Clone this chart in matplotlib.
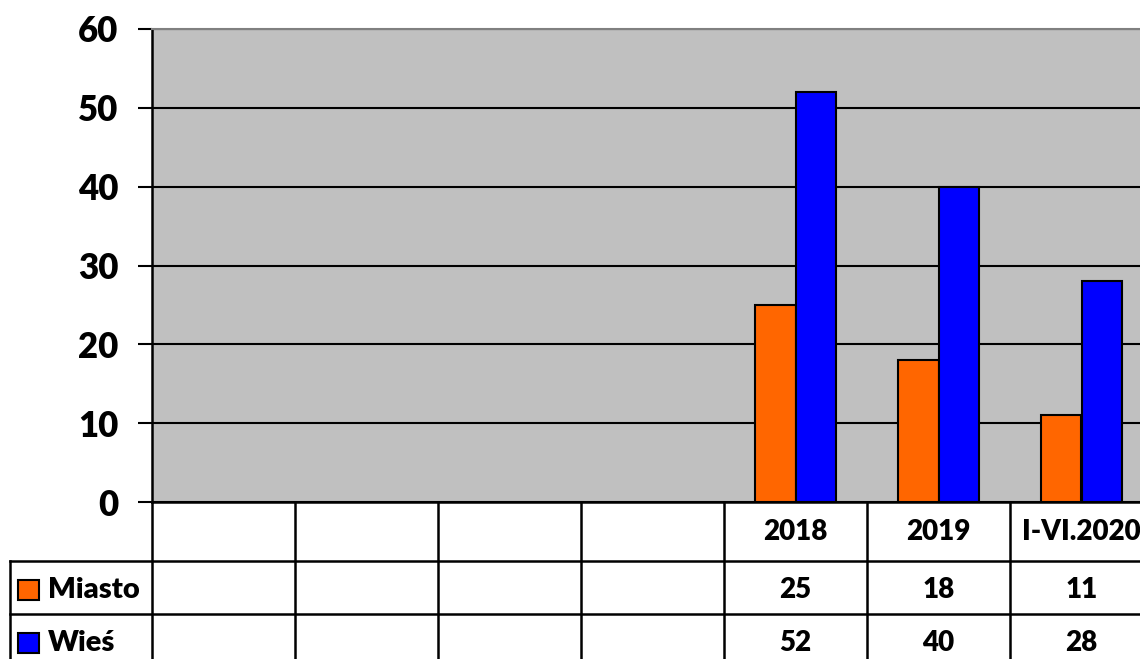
import matplotlib
matplotlib.use("Agg")
import matplotlib.pyplot as plt
from matplotlib.patches import Rectangle

categories = ["", "", "", "", "2018", "2019", "I-VI.2020"]
series_names = ["Miasto", "Wieś"]
miasto = [None, None, None, None, 25, 18, 11]
wies = [None, None, None, None, 52, 40, 28]
yticks = [0, 10, 20, 30, 40, 50, 60]
colors = ["#FF6600", "#0000FF"]

W, H = 1140, 659
DPI = 100
plt.rcParams['font.family'] = ['Lato', 'DejaVu Sans']
WT = 'heavy'

fig = plt.figure(figsize=(W / DPI, H / DPI), dpi=DPI)
fig.patch.set_facecolor("white")

# plot area in pixels
px_l, px_r, px_t, px_b = 152, 1153, 29, 502
ax = fig.add_axes([px_l / W, (H - px_b) / H, (px_r - px_l) / W, (px_b - px_t) / H])
ax.set_facecolor("#C0C0C0")
n = len(categories)
ax.set_xlim(-0.5, n - 0.5)
ax.set_ylim(0, 60)

bw = 1 / 3.5
for si, (vals, c) in enumerate(zip([miasto, wies], colors)):
    xs = [i for i, v in enumerate(vals) if v is not None]
    hs = [v for v in vals if v is not None]
    offs = (si - 0.5) * bw
    ax.bar([x + offs for x in xs], hs, width=bw, color=c, edgecolor="black",
           linewidth=1.5, zorder=3)

ax.set_yticks(yticks)
ax.set_yticklabels([str(t) for t in yticks], fontsize=25, fontweight=WT)
ax.tick_params(axis='y', length=10, width=1.5, pad=14, direction='out')
ax.set_xticks([])
ax.yaxis.grid(True, color="black", linewidth=1.5, zorder=1)
ax.set_axisbelow(True)
for s in ["left", "bottom"]:
    ax.spines[s].set_color("black")
    ax.spines[s].set_linewidth(1.8)
ax.spines["top"].set_color("#808080")
ax.spines["top"].set_linewidth(1.5)
ax.spines["right"].set_visible(False)

# table below
cat_w = (px_r - px_l) / n
leg_left = 10
x_leg = -0.5 - (px_l - leg_left) / cat_w
tax = fig.add_axes([leg_left / W, 0, (px_r - leg_left) / W, (H - px_b) / H])
tax.set_xlim(x_leg, n - 0.5)
tax.set_ylim(H, px_b)
tax.axis("off")

row1, row2 = 561, 614
lw = 1.8
for i in range(n + 1):
    tax.plot([i - 0.5, i - 0.5], [px_b, H + 5], color="black", lw=lw, clip_on=False)
tax.plot([x_leg, x_leg], [row1, H + 5], color="black", lw=lw, clip_on=False)
for yy in [row1, row2]:
    tax.plot([x_leg, n - 0.5], [yy, yy], color="black", lw=lw, clip_on=False)

fs = 20
y_head = 532
y_r1 = 590
y_r2 = 643
for i, c in enumerate(categories):
    if c:
        tax.text(i, y_head, c, ha="center", va="center", fontsize=fs, fontweight=WT)
for vals, yc in [(miasto, y_r1), (wies, y_r2)]:
    for i, v in enumerate(vals):
        if v is not None:
            tax.text(i, yc, str(v), ha="center", va="center", fontsize=fs, fontweight=WT)

# legend keys in table
for name, c, yc in [(series_names[0], colors[0], y_r1), (series_names[1], colors[1], y_r2)]:
    kx0 = x_leg + 8 / cat_w
    tax.add_patch(Rectangle((kx0, yc - 10), 21 / cat_w, 20, facecolor=c, edgecolor="black",
                            lw=1.5, clip_on=False))
    tax.text(x_leg + 38 / cat_w, yc, name, ha="left", va="center", fontsize=fs + 1, fontweight=WT)

fig.savefig("out.png", dpi=DPI)
